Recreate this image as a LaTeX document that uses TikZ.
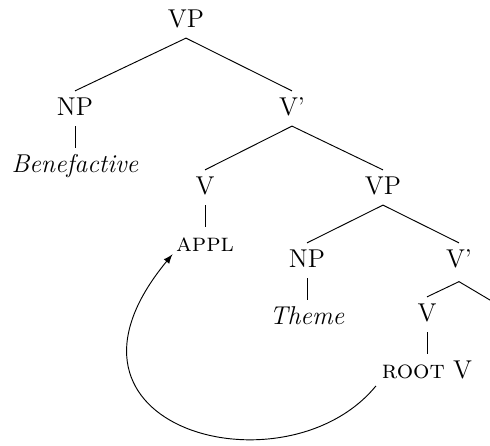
\documentclass[tikz,border=0pt]{standalone}

\tikzstyle{cat} = [font=\fontsize{11}{13}\selectfont, text height=1.6ex, text depth=.25ex]
\tikzstyle{branch} = [thin]
\tikzstyle{movement} = [->,>=latex]

\begin{document}
\begin{tikzpicture}[x=0.015cm, y=-0.015cm, node distance=0.86cm]
		\useasboundingbox (0,0) rectangle (490,446);

		\node (vpTop) [cat] at (186,20.5) {VP};
		\node (npBen) [cat] at (75,108.5) {NP};
		\node (vbarTop) [cat] at (292,108.5) {V'};
		\node (vAppl) [cat] at (205,187.5) {V};
		\node (vpLow) [cat] at (383,187.5) {VP};
		\node (npTheme) [cat] at (307,260.5) {NP};
		\node (vbarLow) [cat] at (459,260.5) {V'};
		\node (vRoot) [cat] at (427,314.5) {V};
		\coordinate (vpHidden) at (500,306);

		\node (ben) [cat, below of=npBen] {\textit{Benefactive}};
		\node (appl) [cat, below of=vAppl] {\textsc{appl}};
		\node (theme) [cat, below of=npTheme] {\textit{Theme}};
		\node (root) [cat, below of=vRoot] {\textsc{root} V};

		\draw [branch] (vpTop.south) -- (npBen.north);
		\draw [branch] (vpTop.south) -- (vbarTop.north);
		\draw [branch] (npBen.south) -- (ben.north);
		\draw [branch] (vbarTop.south) -- (vAppl.north);
		\draw [branch] (vbarTop.south) -- (vpLow.north);
		\draw [branch] (vAppl.south) -- (appl.north);
		\draw [branch] (vpLow.south) -- (npTheme.north);
		\draw [branch] (vpLow.south) -- (vbarLow.north);
		\draw [branch] (npTheme.south) -- (theme.north);
		\draw [branch] ([yshift=-1.5pt]vbarLow.south) -- (vRoot.north);
		\draw [branch] ([yshift=-1.5pt]vbarLow.south) -- (vpHidden);
		\draw [branch] (vRoot.south) -- (root.north);

		\draw [movement] ([xshift=1pt,yshift=1.5pt]root.south west) .. controls +(-90,110) and +(-145,175) .. ([xshift=2pt,yshift=3.5pt]appl.south west);
	
	\end{tikzpicture}
\end{document}
